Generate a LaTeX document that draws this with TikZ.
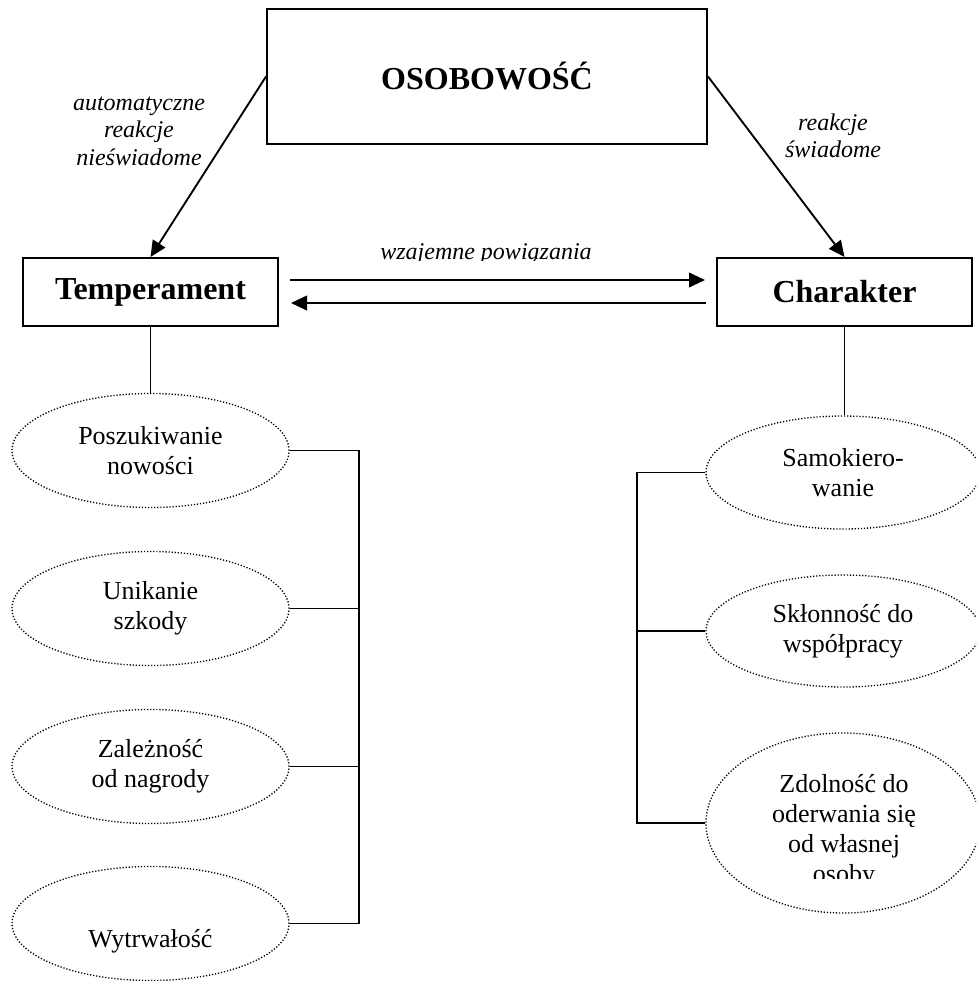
\documentclass[tikz,border=0pt]{standalone}
\usepackage{fontspec}
\setmainfont{Liberation Serif}
\usetikzlibrary{arrows.meta,shapes.geometric,calc}
\begin{document}
\begin{tikzpicture}[x=0.75pt,y=-0.75pt,
  boxnode/.style={draw, line width=1.5pt, rectangle, inner sep=0pt, font=\fontsize{24}{28}\selectfont\bfseries},
  etxt/.style={align=center, inner sep=0pt, font=\fontsize{19.5}{22.5}\selectfont},
  ell/.style={etxt, draw, ellipse, line width=1pt, dash pattern=on 0.9pt off 1.4pt},
  lbl/.style={align=center, inner sep=0pt, font=\fontsize{18}{20.6}\selectfont\itshape},
  conn/.style={line width=1.4pt},
  arr/.style={line width=1.4pt, -{Triangle[length=12pt,width=11pt]}}]
\path[use as bounding box] (0,0) rectangle (976,981);
\clip (0,0) rectangle (976,981);

% main boxes
\node[boxnode, minimum width=330pt, minimum height=101.25pt] (oso) at (487,76.5) {OSOBOWOŚĆ};
\node[boxnode, minimum width=191.25pt, minimum height=51pt] (temp) at (150.5,292) {Temperament};
\node[boxnode, minimum width=191.25pt, minimum height=51pt] (char) at (844.5,292) {Charakter};

% left ellipses
\node[ell, minimum width=207.75pt, minimum height=85.5pt] (p1) at (150.5,450.5) {Poszukiwanie\\nowości};
\node[ell, minimum width=207.75pt, minimum height=85.5pt] (p2) at (150.5,608.5) {Unikanie\\szkody};
\node[ell, minimum width=207.75pt, minimum height=85.5pt] (p3) at (150.5,766.5) {Zależność\\od nagrody};
\node[ell, minimum width=207.75pt, minimum height=85.5pt] (p4) at (150.5,923.5) {\raisebox{-13pt}[\height][\depth]{Wytrwałość}};

% right ellipses
\node[ell, minimum width=205.5pt, minimum height=84.75pt] (s1) at (843,472.5) {Samokiero-\\wanie};
\node[ell, minimum width=205.5pt, minimum height=84pt] (s2) at (843,631) {Skłonność do\\współpracy};
\node[ell, minimum width=205.5pt, minimum height=135pt] (s3) at (843,823) {};
\begin{scope}
  \clip (600,700) rectangle (976,878);
  \node[etxt] (s3t) at (844,831) {Zdolność do\\oderwania się\\od własnej\\osoby};
\end{scope}

% arrows from OSOBOWOSC
\draw[arr] (oso.west) -- (temp.north);
\draw[arr] (oso.east) -- (char.north);

% mutual arrows
\draw[arr] ($(temp.east)+(11,-12)$) -- ($(char.west)+(-11,-12)$);
\draw[arr] ($(char.west)+(-10,11)$) -- ($(temp.east)+(12,11)$);

% labels
\node[lbl] (l1) at (139,131) {automatyczne\\reakcje\\nieświadome};
\node[lbl] (l2) at (833,136) {reakcje\\świadome};
\begin{scope}
  \clip (300,200) rectangle (700,260.5);
  \node[inner sep=0pt, anchor=base, font=\fontsize{18}{20.6}\selectfont\itshape] (l3) at (486,259) {wzajemne powiązania};
\end{scope}

% vertical connectors
\draw[conn] (temp.south) -- (p1.north);
\draw[conn] (char.south) -- (char.south |- s1.north);

% brackets
\coordinate (lbx) at (359,0);
\coordinate (rbx) at (637,0);
\draw[conn] (p1.east) -- (p1.east -| lbx) -- (p4.east -| lbx) -- (p4.east);
\draw[conn] (p2.east) -- (p2.east -| lbx);
\draw[conn] (p3.east) -- (p3.east -| lbx);
\draw[conn] (s1.west) -- (s1.west -| rbx) -- (s3.west -| rbx) -- (s3.west);
\draw[conn] (s2.west) -- (s2.west -| rbx);
\end{tikzpicture}
\end{document}
